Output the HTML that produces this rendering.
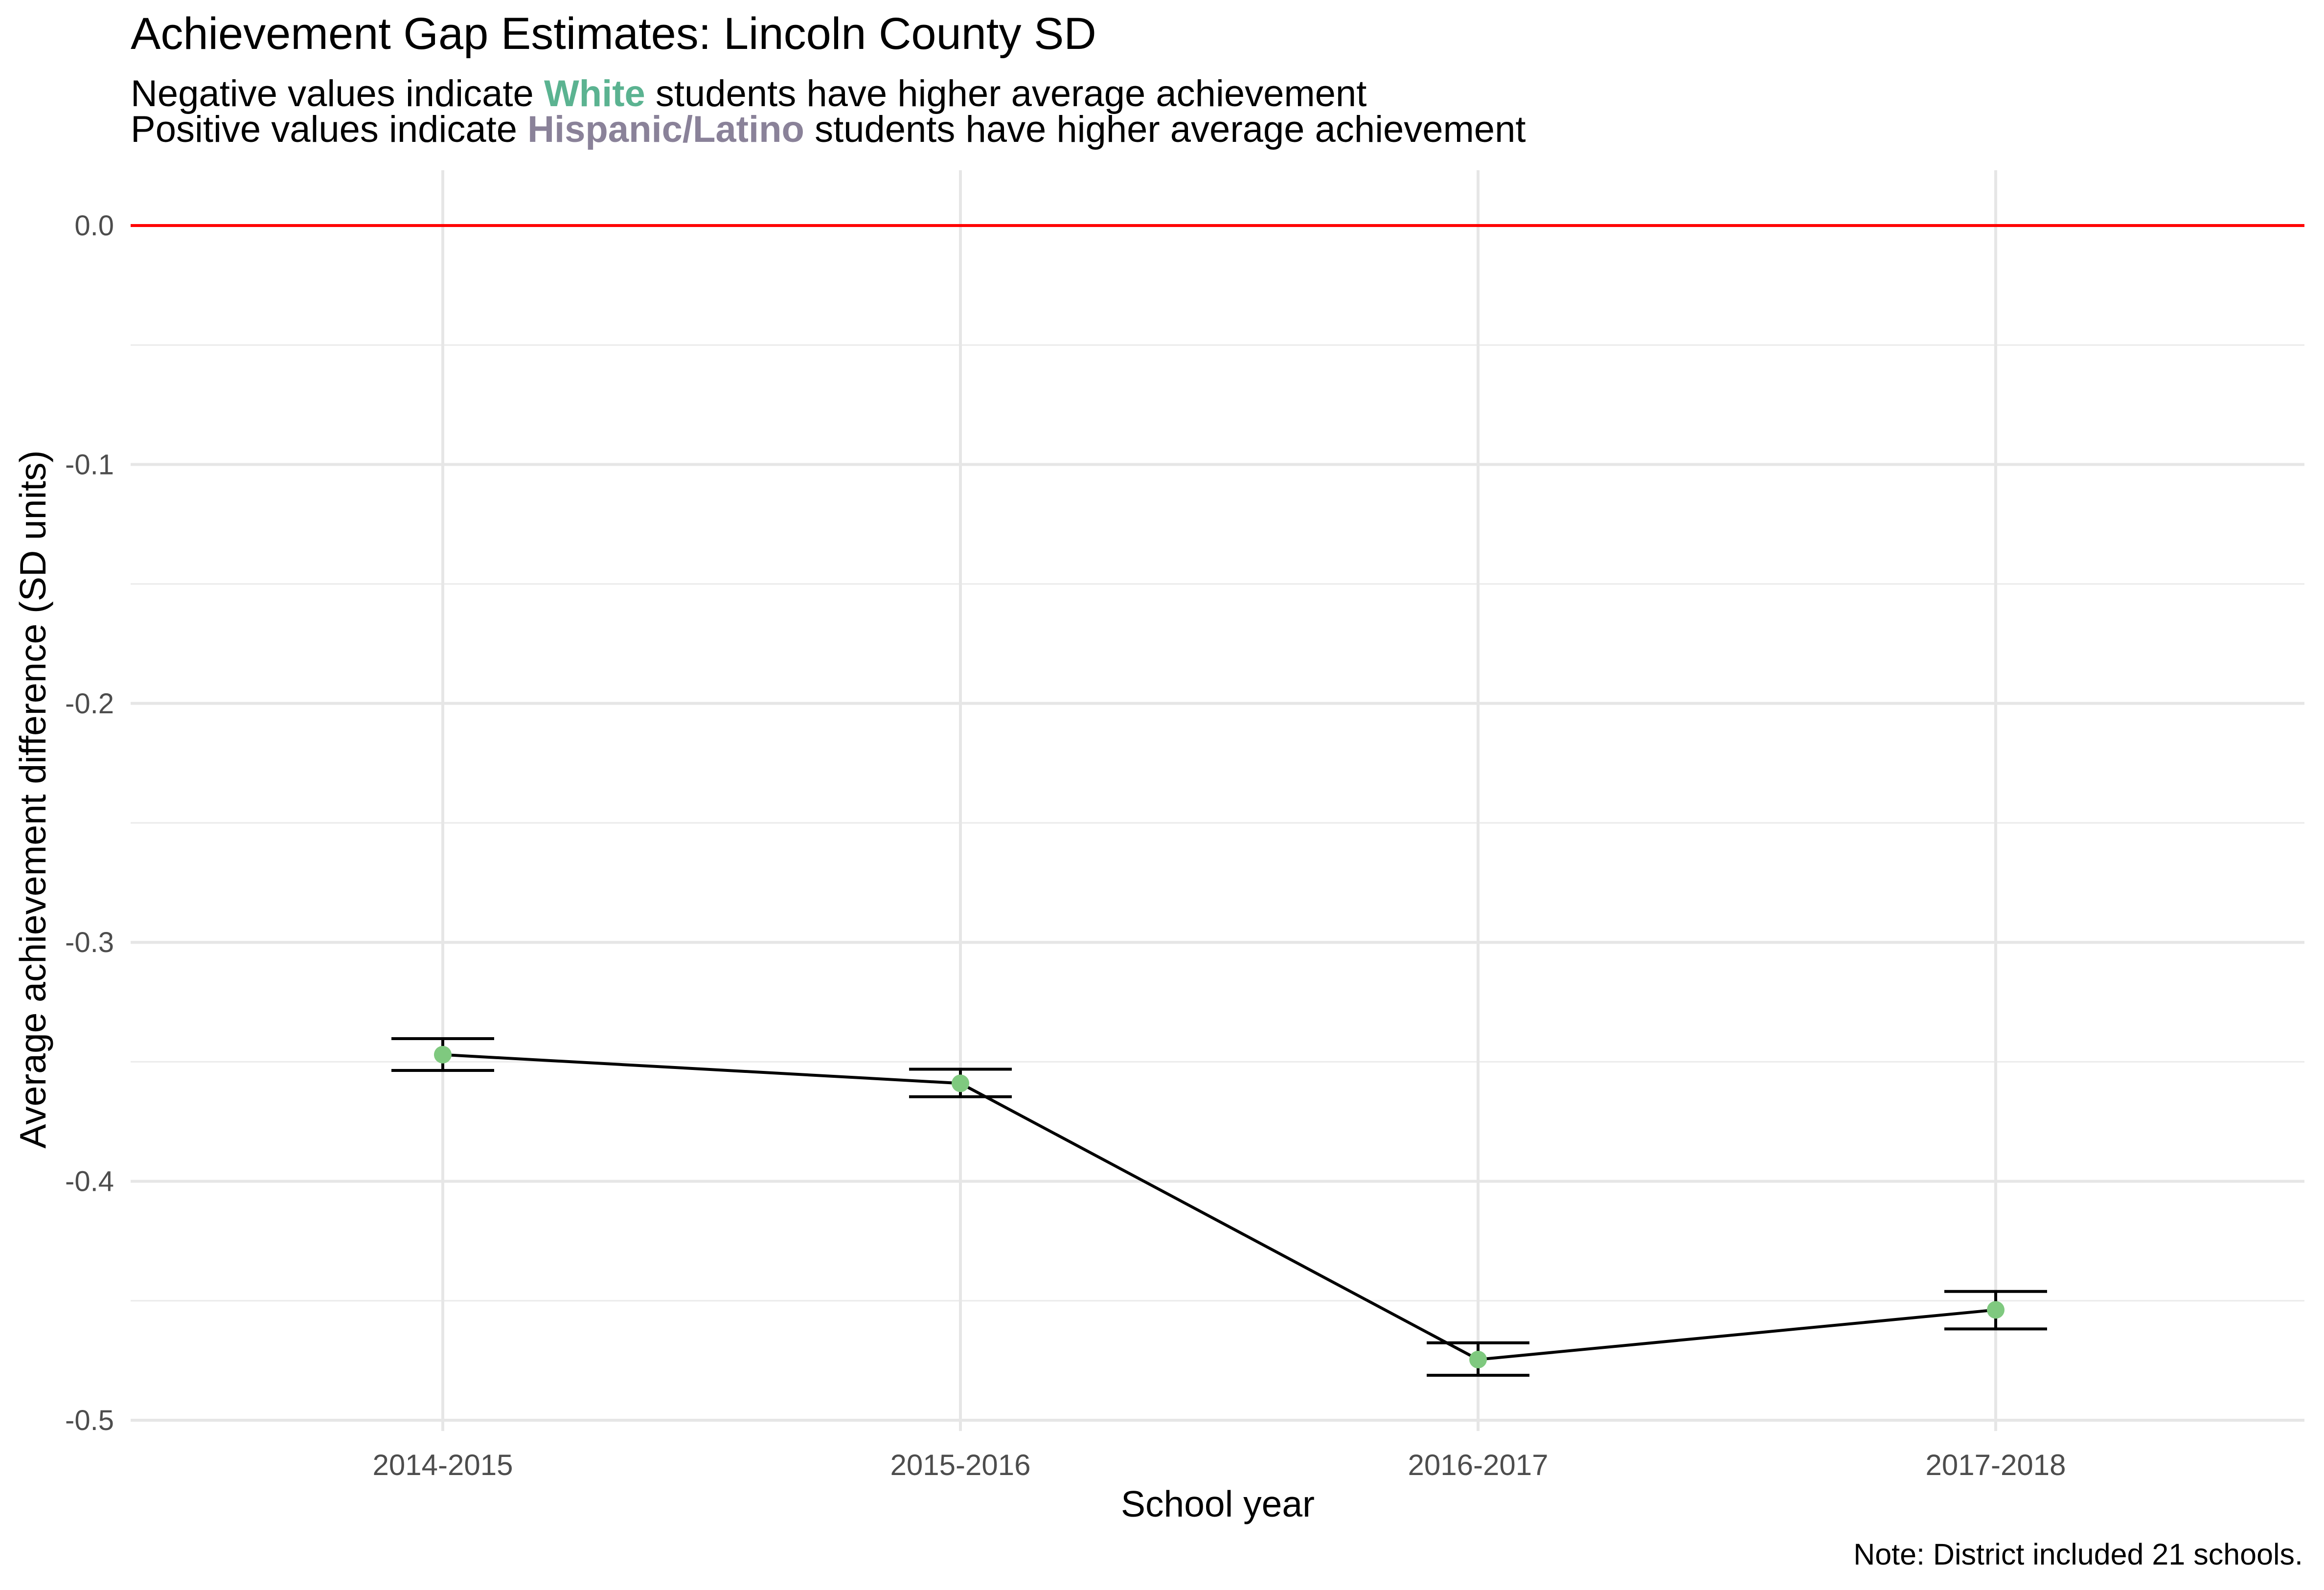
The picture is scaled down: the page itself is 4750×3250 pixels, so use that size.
<!DOCTYPE html>
<html><head><meta charset="utf-8"><style>
html,body{margin:0;padding:0;background:#fff;}
svg{display:block;font-family:"Liberation Sans",Arial,sans-serif;}
</style></head><body>
<svg id="chart" width="4750" height="3250" viewBox="0 0 4750 3250" xmlns="http://www.w3.org/2000/svg">
<rect width="4750" height="3250" fill="#fff"/>
<text x="267" y="100" font-size="92" fill="#000">Achievement Gap Estimates: Lincoln County SD</text>
<text x="267" y="217" font-size="76" fill="#000">Negative values indicate <tspan font-weight="bold" fill="#5BB391">White</tspan> students have higher average achievement</text>
<text x="267" y="290" font-size="76" fill="#000">Positive values indicate <tspan font-weight="bold" fill="#8A8299">Hispanic/Latino</tspan> students have higher average achievement</text>
<g id="grid"></g>
<g id="marks"></g>
<g id="axes"></g>
<text x="2489" y="3100" font-size="75" text-anchor="middle" fill="#000">School year</text>
<text transform="translate(93,1634) rotate(-90)" font-size="75" text-anchor="middle" fill="#000">Average achievement difference (SD units)</text>
<text x="4707" y="3198" font-size="61" text-anchor="end" fill="#000">Note: District included 21 schools.</text>
</svg>
<script>
const categories = ["2014-2015","2015-2016","2016-2017","2017-2018"];
const estimates = [-0.347, -0.359, -0.4746, -0.4538];
const lowers = [-0.3536, -0.3646, -0.4812, -0.4618];
const uppers = [-0.3403, -0.3531, -0.4676, -0.4461];
const yTicks = [0.0, -0.1, -0.2, -0.3, -0.4, -0.5];
const yTickLabels = ["0.0","-0.1","-0.2","-0.3","-0.4","-0.5"];
const yMinor = [-0.05,-0.15,-0.25,-0.35,-0.45];

const NS="http://www.w3.org/2000/svg";
const panelL=267, panelR=4710, panelT=348, panelB=2925;
function xScale(i){return 905 + i*1058;}
function yScale(v){return 461 - v*4884;}
function mk(tag, attrs, parent){const e=document.createElementNS(NS,tag);for(const k in attrs)e.setAttribute(k,attrs[k]);parent.appendChild(e);return e;}
const grid=document.getElementById('grid'), marks=document.getElementById('marks'), axes=document.getElementById('axes');

yMinor.forEach(v=>{
  const l=mk('line',{x1:panelL,x2:panelR,y1:yScale(v),y2:yScale(v),stroke:'#ebebeb','stroke-width':3},grid);
  
  
});
yTicks.forEach((v,i)=>{
  const l=mk('line',{x1:panelL,x2:panelR,y1:yScale(v),y2:yScale(v),stroke:'#e6e6e6','stroke-width':6},grid);
  
  
  const t=mk('text',{x:233,y:yScale(v)+20,'font-size':58,'text-anchor':'end',fill:'#4d4d4d'},axes);
  t.textContent=yTickLabels[i];
  
  
});
categories.forEach((c,i)=>{
  const l=mk('line',{x1:xScale(i),x2:xScale(i),y1:panelT,y2:panelB,stroke:'#e6e6e6','stroke-width':6},grid);
  
  
  const t=mk('text',{x:xScale(i),y:3015,'font-size':60,'text-anchor':'middle',fill:'#4d4d4d'},axes);
  t.textContent=c;
  
  
});
const zl=mk('line',{x1:panelL,x2:panelR,y1:yScale(0),y2:yScale(0),stroke:'#ff0000','stroke-width':6},marks);



const pts=estimates.map((v,i)=>xScale(i)+','+yScale(v)).join(' ');
const pl=mk('polyline',{points:pts,fill:'none',stroke:'#000','stroke-width':6},marks);



estimates.forEach((v,i)=>{
  const x=xScale(i), w=105;
  const g=mk('g',{},marks);
  
  
  mk('line',{x1:x,x2:x,y1:yScale(lowers[i]),y2:yScale(uppers[i]),stroke:'#000','stroke-width':6},g);
  mk('line',{x1:x-w,x2:x+w,y1:yScale(lowers[i]),y2:yScale(lowers[i]),stroke:'#000','stroke-width':6},g);
  mk('line',{x1:x-w,x2:x+w,y1:yScale(uppers[i]),y2:yScale(uppers[i]),stroke:'#000','stroke-width':6},g);
  const c=mk('circle',{cx:x,cy:yScale(v),r:18,fill:'#7FC97F'},marks);
  
  
});
</script>
</body></html>
